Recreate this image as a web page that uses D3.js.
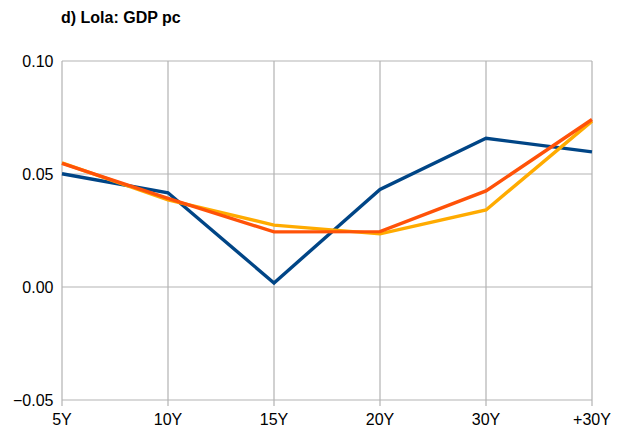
<!DOCTYPE html>
<html>
<head>
<meta charset="utf-8">
<script src="https://cdn.jsdelivr.net/npm/d3@7"></script>
<style>
  body { margin: 0; background: #fff; }
  text { font-family: "Liberation Sans", Arial, sans-serif; }
</style>
</head>
<body>
<div id="chart"></div>
<script>
let width = 621;
let height = 431;

// data
const categories = ["5Y", "10Y", "15Y", "20Y", "30Y", "+30Y"];
const blueSeries = [0.0501, 0.0417, 0.0018, 0.0432, 0.0658, 0.0598];
const yellowSeries = [0.0549, 0.0385, 0.0274, 0.0235, 0.0341, 0.0734];
const redSeries = [0.0547, 0.0392, 0.0244, 0.0245, 0.0425, 0.0741];
const yTicks = [-0.05, 0, 0.05, 0.10];

const series = [
  { values: blueSeries, color: "#004586" },
  { values: yellowSeries, color: "#ffab00" },
  { values: redSeries, color: "#ff5208" }
];

let margin = { top: 61, right: 29, bottom: 31, left: 62 };

let svg = d3.select("#chart")
  .append("svg")
  .attr("width", width)
  .attr("height", height);

let x = d3.scalePoint()
  .domain(categories)
  .range([margin.left, width - margin.right]);

let y = d3.scaleLinear()
  .domain([-0.05, 0.10])
  .range([height - margin.bottom, margin.top]);

svg.append("text")
  .attr("x", 61)
  .attr("y", 22.5)
  .attr("font-size", 16)
  .attr("font-weight", "bold")
  .text("d) Lola: GDP pc");

// horizontal grid
svg.append("g")
  .selectAll("line")
  .data(yTicks)
  .join("line")
  .attr("x1", margin.left)
  .attr("x2", width - margin.right)
  .attr("y1", d => y(d))
  .attr("y2", d => y(d))
  .attr("stroke", "#b3b3b3")
  .attr("stroke-width", 1.2);

// vertical grid + ticks
svg.append("g")
  .selectAll("line")
  .data(categories)
  .join("line")
  .attr("x1", d => x(d))
  .attr("x2", d => x(d))
  .attr("y1", margin.top)
  .attr("y2", height - margin.bottom + 6)
  .attr("stroke", "#b3b3b3")
  .attr("stroke-width", 1.2);

// y labels
svg.append("g")
  .selectAll("text")
  .data(yTicks)
  .join("text")
  .attr("x", margin.left - 8.5)
  .attr("y", d => y(d))
  .attr("dy", "0.35em")
  .attr("text-anchor", "end")
  .attr("font-size", 16)
  .text(d => d3.format(".2f")(d).replace("-", "\u2212"));

// x labels
svg.append("g")
  .selectAll("text")
  .data(categories)
  .join("text")
  .attr("x", d => x(d))
  .attr("y", height - margin.bottom + 25)
  .attr("text-anchor", "middle")
  .attr("font-size", 16)
  .text(d => d);

let line = d3.line()
  .x((d, i) => x(categories[i]))
  .y(d => y(d));

svg.append("g")
  .selectAll("path")
  .data(series)
  .join("path")
  .attr("d", d => line(d.values))
  .attr("fill", "none")
  .attr("stroke", d => d.color)
  .attr("stroke-width", 3.4)
  .attr("stroke-linejoin", "miter");
</script>
</body>
</html>
